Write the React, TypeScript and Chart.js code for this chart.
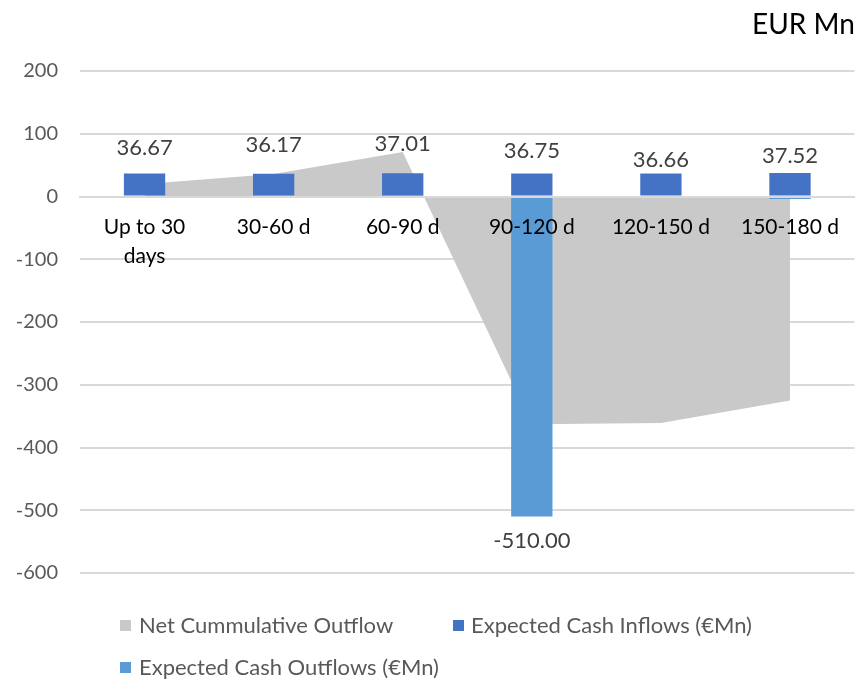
import React, { useEffect, useRef } from 'react';
import { Chart, registerables } from 'chart.js';

Chart.register(...registerables);

const categories: (string | string[])[] = [['Up to 30', 'days'], '30-60 d', '60-90 d', '90-120 d', '120-150 d', '150-180 d'];
const netCumulativeOutflow = [20, 36, 71, -363, -361, -325];
const expectedInflows = [36.67, 36.17, 37.01, 36.75, 36.66, 37.52];
const expectedOutflows = [0, 0, 0, -510, 0, -4];
const outflowLabels: (string | null)[] = [null, null, null, '-510.00', null, null];
const yMin = -600;
const yMax = 200;
const yStep = 100;
const legendNames = ['Net Cummulative Outflow', 'Expected Cash Inflows (€Mn)', 'Expected Cash Outflows (€Mn)'];
const unitTitle = 'EUR Mn';

// label placement (style): pixel lift of each inflow label centre above its bar top
const inflowLabelLift = [26, 29, 29, 23, 14, 17];

const COLORS = {
  area: '#C9C9C9',
  inflow: '#4472C4',
  outflow: '#5B9BD5',
  grid: '#D9D9D9',
};
const FONT = 'Lato, "Open Sans", sans-serif';

const valueLabels = {
  id: 'valueLabels',
  afterDatasetsDraw(chart: any) {
    const ctx = chart.ctx;
    ctx.save();
    ctx.font = `22px ${FONT}`;
    ctx.fillStyle = '#404040';
    ctx.textAlign = 'center';
    ctx.textBaseline = 'middle';
    chart.getDatasetMeta(1).data.forEach((bar: any, i: number) => {
      ctx.fillText(expectedInflows[i].toFixed(2), bar.x, bar.y - inflowLabelLift[i]);
    });
    chart.getDatasetMeta(2).data.forEach((bar: any, i: number) => {
      const t = outflowLabels[i];
      if (t) ctx.fillText(t, bar.x, bar.y + 24);
    });
    ctx.restore();
  },
};

export default function App() {
  const ref = useRef<HTMLCanvasElement | null>(null);

  useEffect(() => {
    if (!ref.current) return;
    const chart = new Chart(ref.current, {
      data: {
        labels: categories as any,
        datasets: [
          {
            type: 'line',
            label: legendNames[0],
            data: netCumulativeOutflow,
            fill: 'origin',
            backgroundColor: COLORS.area,
            borderColor: 'rgba(0,0,0,0)',
            borderWidth: 0,
            pointRadius: 0,
            tension: 0,
            order: 3,
          } as any,
          {
            type: 'bar',
            label: legendNames[1],
            data: expectedInflows,
            backgroundColor: COLORS.inflow,
            grouped: false,
            categoryPercentage: 1,
            barPercentage: 0.32,
            order: 1,
          } as any,
          {
            type: 'bar',
            label: legendNames[2],
            data: expectedOutflows,
            backgroundColor: COLORS.outflow,
            grouped: false,
            categoryPercentage: 1,
            barPercentage: 0.32,
            order: 2,
          } as any,
        ],
      },
      options: {
        animation: false,
        responsive: false,
        maintainAspectRatio: false,
        layout: { padding: { top: 71, right: 0, bottom: 106, left: 0 } },
        plugins: {
          legend: { display: false },
          tooltip: { enabled: false },
          title: { display: false },
        },
        scales: {
          x: {
            type: 'category',
            offset: true,
            position: { y: 0 } as any,
            grid: { display: false, drawTicks: false },
            border: { display: true, color: COLORS.grid, width: 2, z: 1 },
            ticks: {
              z: 1,
              color: '#000000',
              font: { family: FONT, size: 21, lineHeight: 1.35 },
              padding: 17,
              maxRotation: 0,
              autoSkip: false,
            },
          },
          y: {
            type: 'linear',
            min: yMin,
            max: yMax,
            ticks: {
              stepSize: yStep,
              color: '#595959',
              font: { family: FONT, size: 20 },
              padding: 22,
            },
            grid: { color: COLORS.grid, lineWidth: 2, drawTicks: false },
            border: { display: false },
            afterFit: (s: any) => {
              s.width = 80;
            },
          } as any,
        },
      } as any,
      plugins: [valueLabels],
    });
    return () => chart.destroy();
  }, []);

  const legendText: React.CSSProperties = {
    position: 'absolute',
    font: `22px ${FONT}`,
    lineHeight: '22px',
    color: '#595959',
    whiteSpace: 'nowrap',
  };
  const sq = (left: number, top: number, color: string): React.CSSProperties => ({
    position: 'absolute',
    left,
    top,
    width: 11,
    height: 11,
    background: color,
  });

  return (
    <div style={{ position: 'fixed', left: 0, top: 0, width: 856, height: 679, background: '#fff', overflow: 'hidden' }}>
      <canvas ref={ref} width={856} height={679} style={{ position: 'absolute', left: 0, top: 0, width: 856, height: 679 }} />
      <div style={{ position: 'absolute', right: 1, top: 9, font: `28px ${FONT}`, lineHeight: '28px', color: '#000' }}>{unitTitle}</div>
      <div style={sq(120, 620, COLORS.area)} />
      <div style={{ ...legendText, left: 139, top: 614 }}>{legendNames[0]}</div>
      <div style={sq(453, 620, COLORS.inflow)} />
      <div style={{ ...legendText, left: 471, top: 614 }}>{legendNames[1]}</div>
      <div style={sq(120, 662, COLORS.outflow)} />
      <div style={{ ...legendText, left: 139, top: 656 }}>{legendNames[2]}</div>
    </div>
  );
}
